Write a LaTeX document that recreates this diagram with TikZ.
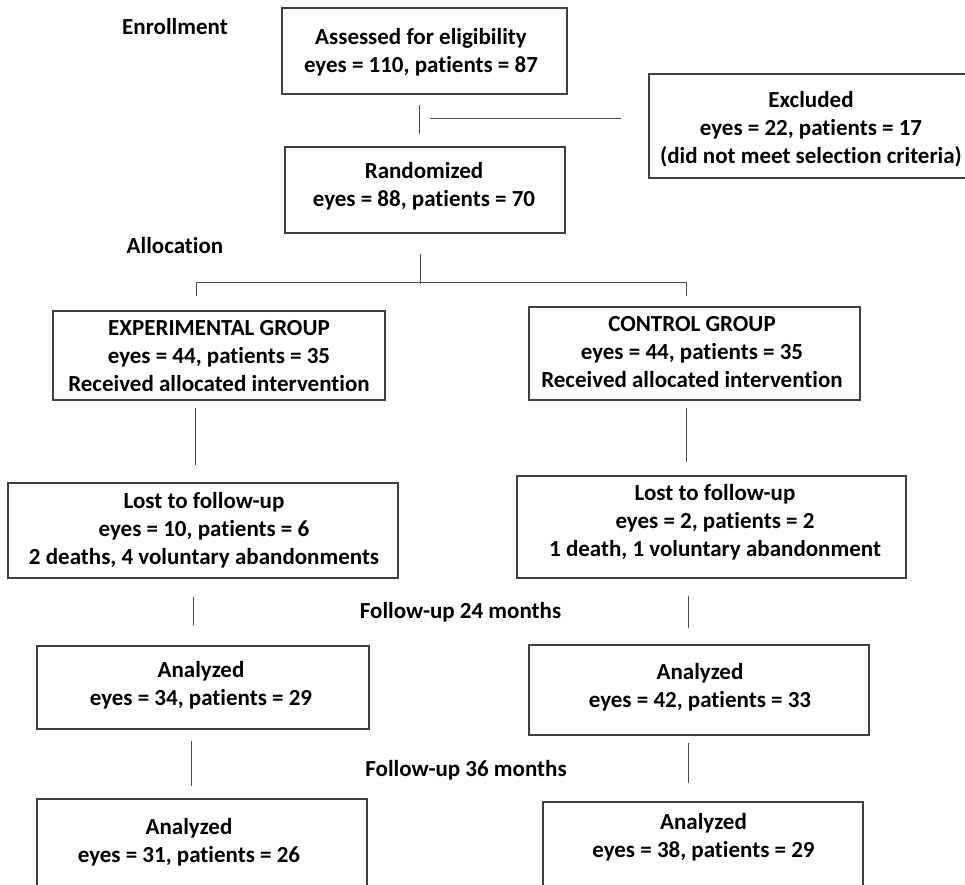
\documentclass[tikz,border=0pt]{standalone}
\usepackage{fontspec}
\setmainfont{Carlito}[Ligatures=NoCommon]
\usetikzlibrary{calc}
\begin{document}
\begin{tikzpicture}[x=1pt,y=-1pt,
  box/.style={draw=black!75, line width=1.1pt, rectangle, inner sep=0pt},
  txt/.style={inner sep=0pt, align=center, font=\fontsize{23}{28}\selectfont\bfseries},
  lbl/.style={inner sep=0pt, font=\fontsize{23}{28}\selectfont\bfseries},
  conn/.style={draw=black!70, line width=1pt}]
\useasboundingbox (0,0) rectangle (965,884);
\fill[white] (0,0) rectangle (965,884);

% boxes
\node[box, minimum width=285, minimum height=86] (A) at (424.5,51) {};
\node[box, minimum width=326, minimum height=104] (X) at (812,126) {};
\node[box, minimum width=280, minimum height=86] (B) at (425,190) {};
\node[box, minimum width=332, minimum height=89] (C) at (219,355.5) {};
\node[box, minimum width=331, minimum height=93] (D) at (694.5,353.5) {};
\node[box, minimum width=390, minimum height=95] (E) at (203,530.5) {};
\node[box, minimum width=389, minimum height=102] (F) at (711.5,527) {};
\node[box, minimum width=332, minimum height=83] (G) at (203,687.5) {};
\node[box, minimum width=340, minimum height=90] (H) at (699,690) {};
\node[box, minimum width=330, minimum height=91] (I) at (202,844.5) {};
\node[box, minimum width=320, minimum height=88] (J) at (703,846) {};

% box texts
\node[txt] (At) at (421,52) {Assessed for eligibility\\eyes = 110, patients = 87};
\node[txt] (Xt) at (811,129) {Excluded\\eyes = 22, patients = 17\\(did not meet selection criteria)};
\node[txt] (Bt) at (424,186) {Randomized\\eyes = 88, patients = 70};
\node[txt] (Ct) at (219,356) {EXPERIMENTAL GROUP\\eyes = 44, patients = 35\\Received allocated intervention};
\node[txt] (Dt) at (692,352) {CONTROL GROUP\\eyes = 44, patients = 35\\Received allocated intervention};
\node[txt] (Et) at (204,530.5) {Lost to follow-up\\eyes = 10, patients = 6\\2 deaths, 4 voluntary abandonments};
\node[txt] (Ft) at (715,522) {Lost to follow-up\\eyes = 2, patients = 2\\1 death, 1 voluntary abandonment};
\node[txt] (Gt) at (201,685.5) {Analyzed\\eyes = 34, patients = 29};
\node[txt] (Ht) at (700,687) {Analyzed\\eyes = 42, patients = 33};
\node[txt] (It) at (189,842) {Analyzed\\eyes = 31, patients = 26};
\node[txt] (Jt) at (703.5,837.5) {Analyzed\\eyes = 38, patients = 29};

% stage labels
\node[lbl] (enr) at (175,27) {Enrollment};
\node[lbl] (alloc) at (175,246) {Allocation};
\node[lbl] (fu24) at (460.5,612) {Follow-up 24 months};
\node[lbl] (fu36) at (466,770) {Follow-up 36 months};

% connectors
\draw[conn] ($(A.south)+(-5.5,10)$) -- ($(B.north)+(-6,-12)$);
\draw[conn] ($(X.west)+(-27,-8)$) -- ($(X.west)+(-218,-8)$);
\coordinate (split) at ($(B.south)+(-5,50)$);
\draw[conn] ($(B.south)+(-5,20)$) -- (split);
\draw[conn] ($(C.north)+(-23,-14)$) -- ++(0,-14) -| ($(D.north)+(-8.5,-10)$);
\draw[conn] ($(C.south)+(-24,7)$) -- ($(E.north)+(-8,-17)$);
\draw[conn] ($(D.south)+(-8.5,7)$) -- ($(F.north)+(-25.5,-13)$);
\draw[conn] ($(E.south)+(-10,18)$) -- ($(G.north)+(-10,-20)$);
\draw[conn] ($(F.south)+(-23.5,17)$) -- ($(H.north)+(-11,-16)$);
\draw[conn] ($(G.south)+(-12,11)$) -- ($(I.north)+(-11,-12)$);
\draw[conn] ($(H.south)+(-11,7)$) -- ($(J.north)+(-15,-18)$);
\end{tikzpicture}
\end{document}
